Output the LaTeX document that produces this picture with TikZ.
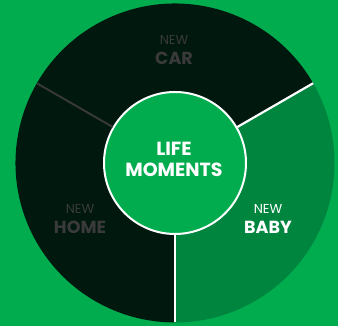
\documentclass[tikz,border=0pt]{standalone}
\usepackage{fontspec}
\setmainfont{Poppins}
\usetikzlibrary{calc}
\definecolor{bggreen}{RGB}{0,172,78}
\definecolor{babygreen}{RGB}{0,133,63}
\definecolor{darkseg}{RGB}{0,24,14}
\definecolor{graytxt}{RGB}{58,58,58}
\definecolor{grayline}{RGB}{56,56,56}
\begin{document}
\begin{tikzpicture}[x=1pt,y=1pt,
  newlbl/.style={font=\fontsize{13}{13}\selectfont, inner sep=0pt, anchor=base},
  biglbl/.style={font=\fontsize{17.5}{17.5}\selectfont\bfseries, inner sep=0pt, anchor=base},
  centerlbl/.style={font=\fontsize{19}{19}\selectfont\bfseries, text=white, inner sep=0pt, anchor=base},
  whiteline/.style={draw=white, line width=2.2pt},
]
\useasboundingbox (0,0) rectangle (338,326);
\fill[bggreen] (0,0) rectangle (338,326);
\coordinate (c) at (175,163);
% segments
\fill[darkseg] (c) -- ++(30:159.5) arc[start angle=30, end angle=270, radius=159.5] -- cycle;
\fill[babygreen] (c) -- ++(-90:159.5) arc[start angle=-90, end angle=30, radius=159.5] -- cycle;
% outer coordinates
\coordinate (o30) at ($(c)+(30:159.5)$);
\coordinate (o150) at ($(c)+(150:159.5)$);
\coordinate (o270) at ($(c)+(270:159.5)$);
% center circle
\node[circle, fill=bggreen, draw=white, line width=2pt, minimum size=142pt, inner sep=0pt] (life) at (c) {};
\draw[whiteline] (life.30) -- (o30);
\draw[whiteline] (life.270) -- (o270);
\draw[draw=grayline, line width=2pt] (life.150) -- (o150);
% center text
\node[centerlbl] (lifet) at (174,170) {LIFE};
\node[centerlbl] (momt) at (174,149.5) {MOMENTS};
% labels
\node[newlbl, text=graytxt] (carnew) at (174,281) {NEW};
\node[biglbl, text=graytxt] (car) at (174,261) {CAR};
\node[newlbl, text=graytxt] (homenew) at (80,112) {NEW};
\node[biglbl, text=graytxt] (home) at (80,92) {HOME};
\node[newlbl, text=white] (babynew) at (268,112) {NEW};
\node[biglbl, text=white] (baby) at (268,92) {BABY};
\end{tikzpicture}
\end{document}
